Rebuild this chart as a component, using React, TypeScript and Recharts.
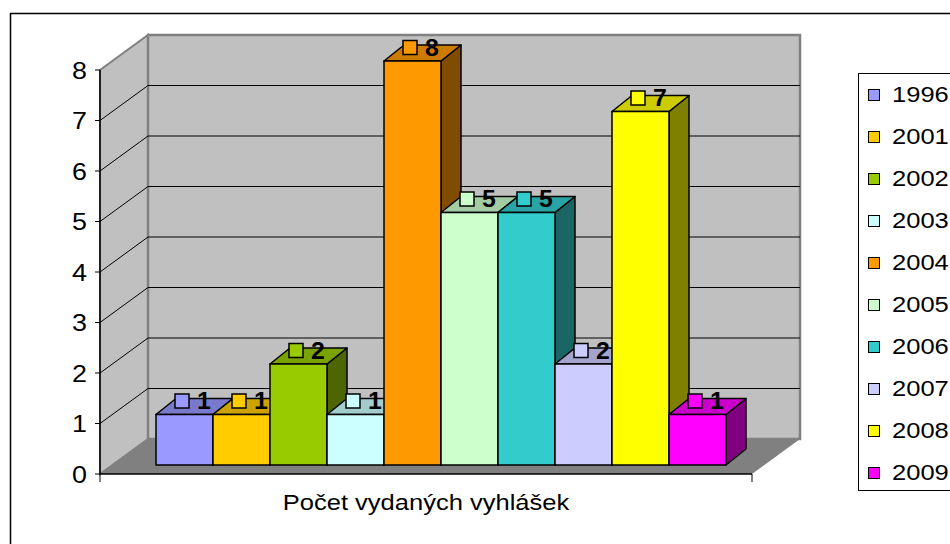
import React from 'react'
import { BarChart, Bar, XAxis, YAxis, Legend, LabelList, Customized } from 'recharts'

// values
const category = 'Počet vydaných vyhlášek'
const years = ['1996', '2001', '2002', '2003', '2004', '2005', '2006', '2007', '2008', '2009']
const counts = [1, 1, 2, 1, 8, 5, 5, 2, 7, 1]
const colors = ['#9999FF', '#FFCC00', '#99CC00', '#CCFFFF', '#FF9900', '#CCFFCC', '#33CCCC', '#CCCCFF', '#FFFF00', '#FF00FF']
const yTicks = [0, 1, 2, 3, 4, 5, 6, 7, 8]

const data = [
  years.reduce((row: any, yr, i) => {
    row['y' + yr] = counts[i]
    return row
  }, { name: category }),
]

// layout of the pseudo 3D box
const W = 950
const H = 544
const MARGIN = { top: 70, right: 198, bottom: 30, left: 0 }
const Y_AXIS_W = 100
const X_AXIS_H = 40
const PLOT_L = MARGIN.left + Y_AXIS_W
const PLOT_T = MARGIN.top
const PLOT_W = W - PLOT_L - MARGIN.right
const PLOT_H = H - MARGIN.top - MARGIN.bottom - X_AXIS_H
const WALL_DX = 48
const WALL_DY = 35
const BAR_OFF_X = 14
const BAR_OFF_Y = 9
const BAR_DX = 20
const BAR_DY = 16
const STRETCH = 1.16
const FONT = '"Liberation Sans", Arial, sans-serif'

const shade = (hex: string, k: number) => {
  const n = parseInt(hex.slice(1), 16)
  const c = [(n >> 16) & 255, (n >> 8) & 255, n & 255].map(v => Math.round(v * k))
  return `rgb(${c[0]},${c[1]},${c[2]})`
}

const Walls = () => {
  const yMax = yTicks[yTicks.length - 1]
  const yOf = (v: number) => PLOT_T + PLOT_H * (1 - v / yMax)
  const bottom = PLOT_T + PLOT_H
  const right = PLOT_L + PLOT_W
  return (
    <g>
      <rect x={10.5} y={13.5} width={1000} height={600} fill="none" stroke="#000" strokeWidth={1.5} />
      <polygon
        points={`${PLOT_L},${bottom} ${PLOT_L + WALL_DX},${bottom - WALL_DY} ${right + WALL_DX},${bottom - WALL_DY} ${right},${bottom}`}
        fill="#808080"
      />
      <polygon
        points={`${PLOT_L},${PLOT_T} ${PLOT_L + WALL_DX},${PLOT_T - WALL_DY} ${PLOT_L + WALL_DX},${bottom - WALL_DY} ${PLOT_L},${bottom}`}
        fill="#C0C0C0"
        stroke="#808080"
        strokeWidth={2}
      />
      <rect
        x={PLOT_L + WALL_DX}
        y={PLOT_T - WALL_DY}
        width={PLOT_W}
        height={PLOT_H}
        fill="#C0C0C0"
        stroke="#808080"
        strokeWidth={2.5}
      />
      {yTicks.slice(1, -1).map(v => (
        <g key={v}>
          <line x1={PLOT_L} y1={yOf(v)} x2={PLOT_L + WALL_DX} y2={yOf(v) - WALL_DY} stroke="#000" strokeWidth={1} />
          <line x1={PLOT_L + WALL_DX} y1={yOf(v) - WALL_DY} x2={right + WALL_DX} y2={yOf(v) - WALL_DY} stroke="#000" strokeWidth={1} />
        </g>
      ))}
      <line x1={PLOT_L} y1={bottom} x2={PLOT_L} y2={bottom + 8} stroke="#000" strokeWidth={1} />
      <line x1={right} y1={bottom} x2={right} y2={bottom + 8} stroke="#000" strokeWidth={1} />
    </g>
  )
}

const Box3D = (props: any) => {
  const { x, y, width, height, fill } = props
  if (width == null || height == null) return null
  const fx = x + BAR_OFF_X
  const fy = y - BAR_OFF_Y
  const top = `${fx},${fy} ${fx + width},${fy} ${fx + width + BAR_DX},${fy - BAR_DY} ${fx + BAR_DX},${fy - BAR_DY}`
  const side = `${fx + width},${fy} ${fx + width + BAR_DX},${fy - BAR_DY} ${fx + width + BAR_DX},${fy + height - BAR_DY} ${fx + width},${fy + height}`
  return (
    <g stroke="#000" strokeWidth={1.5} strokeLinejoin="round">
      <polygon points={side} fill={shade(fill, 0.5)} />
      <polygon points={top} fill={shade(fill, 0.8)} />
      <rect x={fx} y={fy} width={width} height={height} fill={fill} />
    </g>
  )
}

const makeLabel = (color: string) => (props: any) => {
  const { x, y, width, value } = props
  const cx = x + width / 2 + BAR_OFF_X - 2.5
  const cy = y - BAR_OFF_Y - 13.5
  return (
    <g>
      <rect x={cx - 7} y={cy - 7} width={14} height={14} fill={color} stroke="#000" strokeWidth={1.5} />
      <text
        transform={`translate(${cx + 15},${cy + 8}) scale(1.08,1)`}
        fontFamily={FONT}
        fontSize={23}
        fontWeight="bold"
        fill="#000"
      >
        {value}
      </text>
    </g>
  )
}

const YTick = (props: any) => {
  const { x, y, payload } = props
  return (
    <text
      transform={`translate(${x - 6},${y + 8.5}) scale(1.12,1)`}
      textAnchor="end"
      fontFamily={FONT}
      fontSize={24}
      fill="#000"
    >
      {payload.value}
    </text>
  )
}

const XTick = (props: any) => {
  const { x, y, payload } = props
  return (
    <text
      transform={`translate(${x},${y + 28}) scale(${STRETCH},1)`}
      textAnchor="middle"
      fontFamily={FONT}
      fontSize={22}
      fill="#000"
    >
      {payload.value}
    </text>
  )
}

const LegendBox = (props: any) => {
  const { payload } = props
  return (
    <div
      style={{
        width: 110,
        height: 418,
        border: '1.5px solid #000',
        boxSizing: 'border-box',
        background: '#fff',
        fontFamily: FONT,
      }}
    >
      {(payload || []).map((entry: any) => (
        <div key={entry.value} style={{ height: 42, display: 'flex', alignItems: 'center', position: 'relative' }}>
          <div
            style={{
              position: 'absolute',
              left: 9,
              width: 10,
              height: 10,
              background: entry.color,
              border: '1.5px solid #000',
            }}
          />
          <span
            style={{
              position: 'absolute',
              left: 33,
              fontSize: 22,
              lineHeight: '40px',
              color: '#000',
              transform: `scaleX(${STRETCH})`,
              transformOrigin: 'left center',
            }}
          >
            {entry.value}
          </span>
        </div>
      ))}
    </div>
  )
}

export default function App() {
  return (
    <div style={{ position: 'fixed', left: 0, top: 0, width: W, height: H, background: '#fff' }}>
      <BarChart width={W} height={H} data={data} margin={MARGIN} barCategoryGap={42} barGap={0}>
        <Customized component={Walls} />
        <XAxis
          dataKey="name"
          height={X_AXIS_H}
          axisLine={{ stroke: '#000', strokeWidth: 1.5 }}
          tickLine={false}
          tick={<XTick />}
        />
        <YAxis
          width={Y_AXIS_W}
          domain={[0, 8]}
          ticks={yTicks}
          interval={0}
          axisLine={{ stroke: '#000', strokeWidth: 1.5 }}
          tickLine={{ stroke: '#000' }}
          tickSize={5}
          tick={<YTick />}
        />
        <Legend
          layout="vertical"
          align="center"
          verticalAlign="middle"
          wrapperStyle={{ position: 'absolute', left: 858, top: 73, width: 110, height: 418 }}
          content={<LegendBox />}
        />
        {years.map((yr, i) => (
          <Bar
            key={yr}
            dataKey={'y' + yr}
            name={yr}
            fill={colors[i]}
            shape={<Box3D />}
            isAnimationActive={false}
          >
            <LabelList dataKey={'y' + yr} content={makeLabel(colors[i])} />
          </Bar>
        ))}
      </BarChart>
    </div>
  )
}
